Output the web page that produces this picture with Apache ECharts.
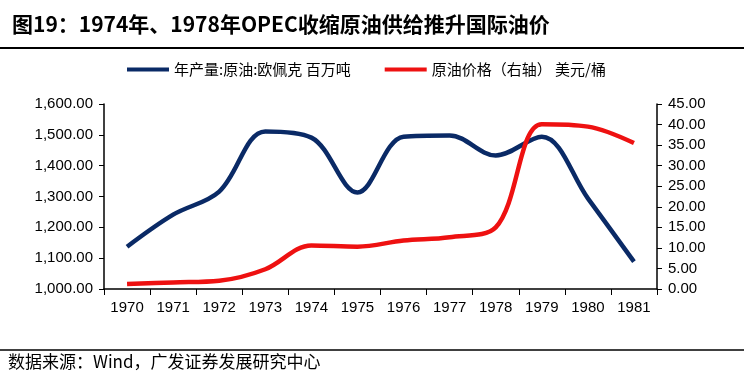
<!DOCTYPE html>
<html><head><meta charset="utf-8">
<script src="https://cdn.jsdelivr.net/npm/echarts@6/dist/echarts.min.js"></script>
<style>html,body{margin:0;padding:0;background:#fff}#c{width:744px;height:375px}</style>
</head><body><div id="c"></div>
<script>
const categories = ['1970','1971','1972','1973','1974','1975','1976','1977','1978','1979','1980','1981'];
const opecOutput = [1137, 1241, 1316, 1511, 1491, 1313, 1494, 1498, 1433, 1494, 1294, 1089];
const oilPrice = [1.2, 1.6, 2.0, 4.8, 10.6, 10.3, 11.8, 12.6, 15.0, 40.1, 39.5, 35.5];
const titleText = '图19：1974年、1978年OPEC收缩原油供给推升国际油价';
const sourceText = '数据来源：Wind，广发证券发展研究中心';
const seriesNames = ['年产量:原油:欧佩克 百万吨', '原油价格（右轴） 美元/桶'];

const chart = echarts.init(document.getElementById('c'));
const fmtLeft = v => v.toLocaleString('en-US', {minimumFractionDigits: 2, maximumFractionDigits: 2});
const fmtRight = v => v.toFixed(2);
chart.setOption({
  backgroundColor: '#fff',
  animation: false,
  title: {
    text: titleText, left: 7, top: 9,
    textStyle: {fontFamily: 'Noto Sans CJK SC', fontWeight: 'bold', fontSize: 21, color: '#000'}
  },
  graphic: [
    {type: 'line', shape: {x1: 0, y1: 48, x2: 744, y2: 48}, style: {stroke: '#000', lineWidth: 2}},
    {type: 'line', shape: {x1: 0, y1: 350, x2: 744, y2: 350}, style: {stroke: '#000', lineWidth: 1.5}},
    {type: 'text', left: 8, top: 353, style: {text: sourceText, font: '17px "Noto Sans CJK SC"', fill: '#000'}}
  ],
  legend: {
    top: 57, left: 122, itemWidth: 42, itemHeight: 4, itemGap: 34,
    icon: 'rect',
    textStyle: {fontFamily: 'Noto Sans CJK SC', fontSize: 15, color: '#000'},
    data: seriesNames
  },
  grid: {left: 104, right: 87, top: 104, bottom: 86},
  xAxis: {
    type: 'category', data: categories, boundaryGap: true,
    axisLine: {lineStyle: {color: '#000', width: 1.5}},
    axisTick: {show: true, length: 6, lineStyle: {color: '#000'}},
    axisLabel: {color: '#000', fontFamily: 'Liberation Sans', fontSize: 15, margin: 11}
  },
  yAxis: [
    {
      type: 'value', min: 1000, max: 1600, interval: 100,
      splitLine: {show: false},
      axisLine: {show: true, lineStyle: {color: '#000', width: 1.5}},
      axisTick: {show: true, length: 5, lineStyle: {color: '#000'}},
      axisLabel: {color: '#000', fontFamily: 'Liberation Sans', fontSize: 15, margin: 11, formatter: fmtLeft}
    },
    {
      type: 'value', min: 0, max: 45, interval: 5, position: 'right',
      splitLine: {show: false},
      axisLine: {show: true, lineStyle: {color: '#000', width: 1.5}},
      axisTick: {show: true, length: 5, lineStyle: {color: '#000'}},
      axisLabel: {color: '#000', fontFamily: 'Liberation Sans', fontSize: 15, margin: 11, formatter: fmtRight}
    }
  ],
  series: [
    {
      name: seriesNames[0], type: 'line', yAxisIndex: 0, data: opecOutput,
      smooth: 0.35, symbol: 'none',
      lineStyle: {color: '#0a2a66', width: 4.5}, itemStyle: {color: '#0a2a66'}
    },
    {
      name: seriesNames[1], type: 'line', yAxisIndex: 1, data: oilPrice,
      smooth: 0.35, symbol: 'none',
      lineStyle: {color: '#ee1111', width: 4.5}, itemStyle: {color: '#ee1111'}
    }
  ]
});
</script>
</body></html>
